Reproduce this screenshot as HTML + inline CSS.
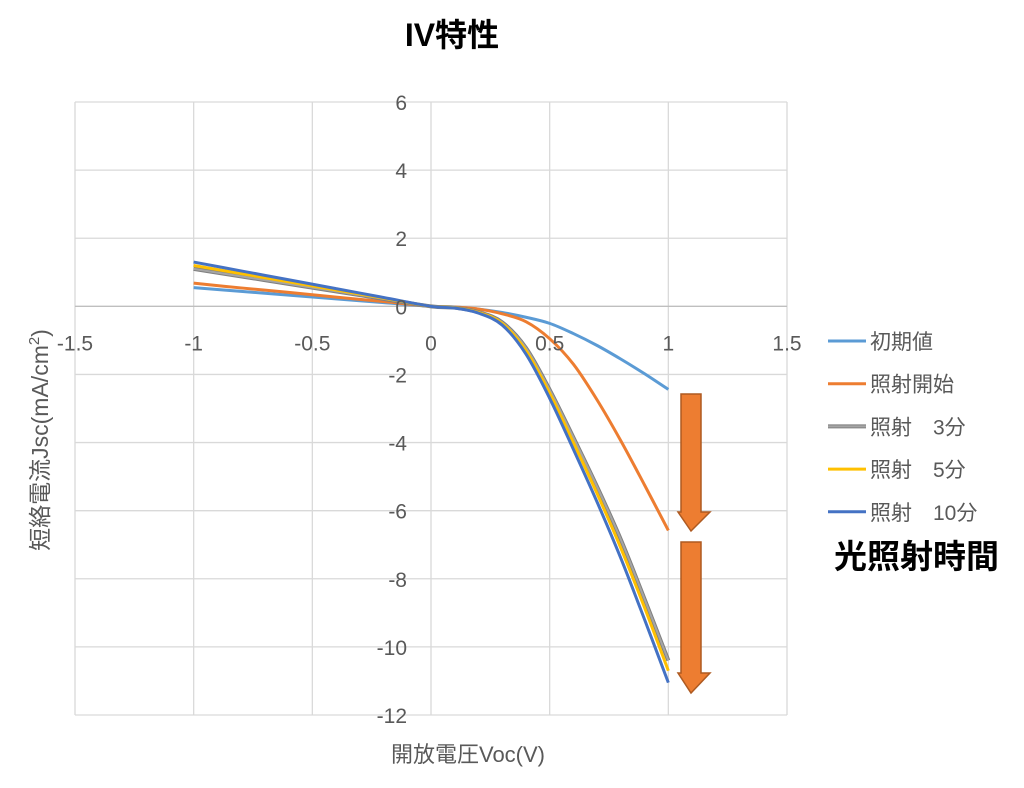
<!DOCTYPE html>
<html><head><meta charset="utf-8">
<style>
body{margin:0;background:#fff;}
svg text{font-family:"Liberation Sans","Noto Sans CJK JP",sans-serif;}
</style></head>
<body>
<svg id="chart" width="1024" height="783" xmlns="http://www.w3.org/2000/svg">
<rect width="1024" height="783" fill="#fff"/>
<text x="452" y="46" text-anchor="middle" font-size="32" font-weight="bold" fill="#000">IV特性</text>
<g id="grid"></g>
<g id="series"></g>
<g id="ticks"></g>
<text x="468" y="762" text-anchor="middle" font-size="22" fill="#595959">開放電圧Voc(V)</text>
<text transform="translate(48,440) rotate(-90)" text-anchor="middle" font-size="23" fill="#595959">短絡電流Jsc(mA/cm<tspan font-size="15" dy="-9">2</tspan><tspan dy="9">)</tspan></text>
<g id="legend"></g>
<path d="M681,394 H701 V512 H710 L691,531 L678,512 H681 Z" fill="#ed7d31" stroke="#ae5a21" stroke-width="1.5"/>
<path d="M681,542 H701 V673 H710 L691,693 L678,673 H681 Z" fill="#ed7d31" stroke="#ae5a21" stroke-width="1.5"/>
<text x="834" y="568" font-size="33" font-weight="bold" fill="#000">光照射時間</text>
</svg>
<script>
const xValues=[-1,-0.8,-0.6,-0.4,-0.2,0,0.1,0.2,0.3,0.4,0.5,0.6,0.7,0.8,0.9,1];
const seriesNames=["初期値","照射開始","照射　3分","照射　5分","照射　10分"];
const sInitial=[0.55,0.44,0.33,0.22,0.11,0,-0.02,-0.08,-0.18,-0.32,-0.5,-0.8,-1.15,-1.55,-1.98,-2.44];
const sStart=[0.68,0.54,0.41,0.27,0.14,0,-0.02,-0.08,-0.22,-0.45,-0.95,-1.7,-2.75,-3.95,-5.25,-6.58];
const s3=[1.1,0.88,0.66,0.44,0.22,0,-0.04,-0.17,-0.47,-1.22,-2.45,-3.85,-5.3,-6.85,-8.6,-10.4];
const s5=[1.2,0.96,0.72,0.48,0.24,0,-0.04,-0.18,-0.5,-1.3,-2.55,-4.0,-5.5,-7.1,-8.85,-10.7];
const s10=[1.3,1.04,0.78,0.52,0.26,0,-0.05,-0.2,-0.55,-1.4,-2.7,-4.2,-5.75,-7.4,-9.2,-11.05];
const xTicks=[-1.5,-1,-0.5,0,0.5,1,1.5];
const yTicks=[6,4,2,0,-2,-4,-6,-8,-10,-12];
const NS="http://www.w3.org/2000/svg";
const X0=75,X1=787,Y0=102,Y1=715;
function sx(v){return X0+(v+1.5)/3*(X1-X0);}
function sy(v){return Y0+(6-v)/18*(Y1-Y0);}
function mk(tag,attrs,parent){const e=document.createElementNS(NS,tag);for(const k in attrs)e.setAttribute(k,attrs[k]);parent.appendChild(e);return e;}
const grid=document.getElementById('grid'),ticks=document.getElementById('ticks');
xTicks.forEach(t=>{const l=mk('line',{x1:sx(t),x2:sx(t),y1:Y0,y2:Y1,stroke:'#d9d9d9','stroke-width':1.3},grid);


const tx=mk('text',{x:sx(t),y:sy(0)+44,'text-anchor':'middle','font-size':21,fill:'#595959'},ticks);tx.textContent=String(t);

});
yTicks.forEach(t=>{const l=mk('line',{x1:X0,x2:X1,y1:sy(t),y2:sy(t),stroke:t===0?'#bfbfbf':'#d9d9d9','stroke-width':1.3},grid);


const tx=mk('text',{x:sx(0)-24,y:sy(t)+8,'text-anchor':'end','font-size':21,fill:'#595959'},ticks);tx.textContent=String(t);

});
function pathD(vals){const p=xValues.map((x,i)=>[sx(x),sy(vals[i])]);let d='M'+p[0][0]+','+p[0][1];
for(let i=0;i<p.length-1;i++){const a=p[Math.max(i-1,0)],b=p[i],c=p[i+1],e=p[Math.min(i+2,p.length-1)];
d+=' C'+(b[0]+(c[0]-a[0])/6)+','+(b[1]+(c[1]-a[1])/6)+' '+(c[0]-(e[0]-b[0])/6)+','+(c[1]-(e[1]-b[1])/6)+' '+c[0]+','+c[1];}return d;}
const all=[sInitial,sStart,s3,s5,s10];
const colors=['#5b9bd5','#ed7d31','#a5a5a5','#ffc000','#4472c4'];
const names=['series-initial','series-start','series-3min','series-5min','series-10min'];
const sg=document.getElementById('series'),lg=document.getElementById('legend');
all.forEach((vals,i)=>{
 if(i===2){const u=mk('path',{d:pathD(vals),fill:'none',stroke:'#7f7f7f','stroke-width':4},sg);}
 const p=mk('path',{d:pathD(vals),fill:'none',stroke:colors[i],'stroke-width':i===2?2:3},sg);
 
 
 const y=341+i*42.7;
 const g=mk('g',{},lg);
 
 
 if(i===2)mk('line',{x1:828,x2:866,y1:y,y2:y,stroke:'#7f7f7f','stroke-width':4},g);
 mk('line',{x1:828,x2:866,y1:y,y2:y,stroke:colors[i],'stroke-width':i===2?2:3},g);
 const t=mk('text',{x:870,y:y+8,'font-size':21,fill:'#595959'},g);t.textContent=seriesNames[i];
});
</script>
</body></html>
